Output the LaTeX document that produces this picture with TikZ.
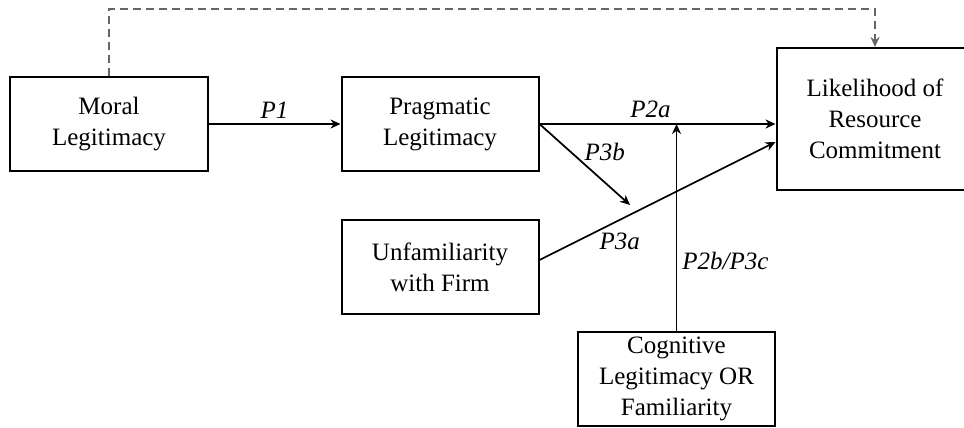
\documentclass[tikz,border=0pt]{standalone}
\usepackage{fontspec}
\setmainfont{Liberation Serif}
\usetikzlibrary{arrows.meta, positioning, calc}

\begin{document}
\begin{tikzpicture}[
    x=0.4pt, y=-0.4pt,
    construct/.style={rectangle, draw, line width=0.8pt, minimum width=78.8pt, minimum height=37.6pt, align=center, inner sep=1pt, font=\fontsize{10}{12.4}\selectfont},
    arrow/.style={-{Stealth[length=4pt, width=3.6pt]}, line width=0.7pt},
    prop/.style={font=\fontsize{10}{12}\selectfont\itshape, inner sep=2pt}
]
\path[use as bounding box, fill=white] (0,0) rectangle (964,427);

\node[construct] (moral) at (109,124) {Moral\\Legitimacy};
\node[construct, right=52.8pt of moral] (prag) {Pragmatic\\Legitimacy};
\node[construct, below=18.8pt of prag] (unfam) {Unfamiliarity\\with Firm};
\node[construct, minimum height=56.8pt] (likely) at (875,119) {Likelihood of\\Resource\\Commitment};
\node[construct] (cog) at (676.5,379) {Cognitive\\Legitimacy OR\\Familiarity};

\draw[arrow] (moral) -- node[prop, above] (p1) {P1} (prag);
\draw[arrow] (prag.east) -- node[prop, above, pos=0.47] (p2a) {P2a} (prag.east -| likely.west);

% moderating paths
\coordinate (mod) at (630,205);
\draw[arrow] (prag.east) -- node[prop, pos=0.35, right, xshift=3pt] (p3b) {P3b} (mod);
\draw[arrow] ($(unfam.east)+(0,-7)$) -- node[prop, pos=0.34, below, yshift=-3pt] (p3a) {P3a} ($(likely.west)+(0,23)$);
\draw[arrow] (cog.north) -- node[prop, pos=0.337, right] (p2b) {P2b/P3c} (cog.north |- prag.east);

% direct path
\draw[arrow, dashed, dash pattern=on 3.2pt off 2pt, line width=0.8pt, black!60] (moral.north) -- ++(0,-67) -| (likely.north);

\end{tikzpicture}
\end{document}
